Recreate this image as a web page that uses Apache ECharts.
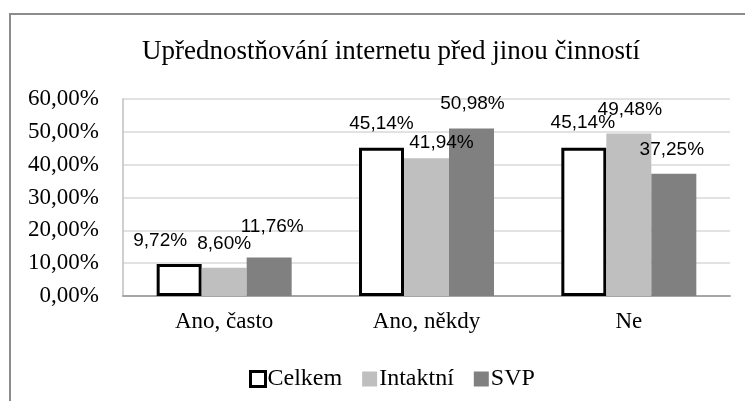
<!DOCTYPE html>
<html>
<head>
<meta charset="utf-8">
<script src="https://cdn.jsdelivr.net/npm/echarts@6/dist/echarts.min.js"></script>
<style>
  html, body { margin: 0; padding: 0; background: #fff; }
  #chart { width: 745px; height: 401px; }
</style>
</head>
<body>
<div id="chart"></div>
<script>
// data
const categories = ['Ano, často', 'Ano, někdy', 'Ne']
const celkem = [9.72, 45.14, 45.14]
const intaktni = [8.60, 41.94, 49.48]
const svp = [11.76, 50.98, 37.25]

// label nudges (Excel placed some labels by hand)
const shiftCelkem = [[-19, -9], [0, -10], [-1, -11]]
const shiftIntaktni = [[0, -9], [15, -1], [1, -9]]
const shiftSvp = [[3, -16], [1, -10], [-2, -9]]

const serif = '"Liberation Serif", "Times New Roman", serif'
const sans = '"Liberation Sans", Arial, sans-serif'

const pct = v => v.toFixed(2).replace('.', ',') + '%'

const withLabels = (values, shifts) => values.map((v, i) => ({
  value: v,
  label: { offset: shifts[i] }
}))

const labelStyle = {
  show: true,
  position: 'top',
  distance: 5,
  fontFamily: sans,
  fontSize: 19,
  color: '#000',
  formatter: p => pct(p.value)
}

const chart = echarts.init(document.getElementById('chart'))
chart.setOption({
  animation: false,
  backgroundColor: '#fff',
  title: {
    text: 'Upřednostňování internetu před jinou činností',
    left: 137,
    top: 33,
    textStyle: { fontFamily: serif, fontSize: 27, fontWeight: 'normal', color: '#000' }
  },
  graphic: [{
    type: 'rect',
    shape: { x: 10, y: 14, width: 900, height: 600 },
    style: { fill: 'none', stroke: '#8c8c8c', lineWidth: 2 },
    silent: true
  }],
  legend: {
    left: 244,
    top: 362,
    icon: 'rect',
    itemWidth: 15,
    itemHeight: 15,
    itemGap: 20,
    textStyle: { fontFamily: serif, fontSize: 24, color: '#000', padding: [0, 0, 0, -3] },
    data: [
      { name: 'Celkem', itemStyle: { borderWidth: 3, borderColor: '#000' } },
      'Intaktní',
      'SVP'
    ]
  },
  grid: { left: 123, right: 15, top: 99, bottom: 105 },
  xAxis: {
    type: 'category',
    data: categories,
    axisTick: { show: false },
    axisLine: { lineStyle: { color: '#a6a6a6', width: 2 } },
    axisLabel: { margin: 14, fontFamily: serif, fontSize: 23, color: '#000' }
  },
  yAxis: {
    type: 'value',
    min: 0,
    max: 60,
    interval: 10,
    axisLine: { show: true, lineStyle: { color: '#bfbfbf', width: 1.5 } },
    axisTick: { show: false },
    splitLine: { lineStyle: { color: '#d9d9d9', width: 1.5 } },
    axisLabel: { margin: 24, fontFamily: serif, fontSize: 23, color: '#000', formatter: v => pct(v) }
  },
  series: [
    {
      name: 'Celkem',
      type: 'bar',
      barWidth: 45,
      barGap: '0%',
      itemStyle: { color: '#ffffff', borderColor: '#000', borderWidth: 3 },
      label: labelStyle,
      data: withLabels(celkem, shiftCelkem)
    },
    {
      name: 'Intaktní',
      type: 'bar',
      barWidth: 45,
      barGap: '0%',
      itemStyle: { color: '#bfbfbf' },
      label: labelStyle,
      data: withLabels(intaktni, shiftIntaktni)
    },
    {
      name: 'SVP',
      type: 'bar',
      barWidth: 45,
      barGap: '0%',
      itemStyle: { color: '#808080' },
      label: labelStyle,
      data: withLabels(svp, shiftSvp)
    }
  ]
})
</script>
</body>
</html>
